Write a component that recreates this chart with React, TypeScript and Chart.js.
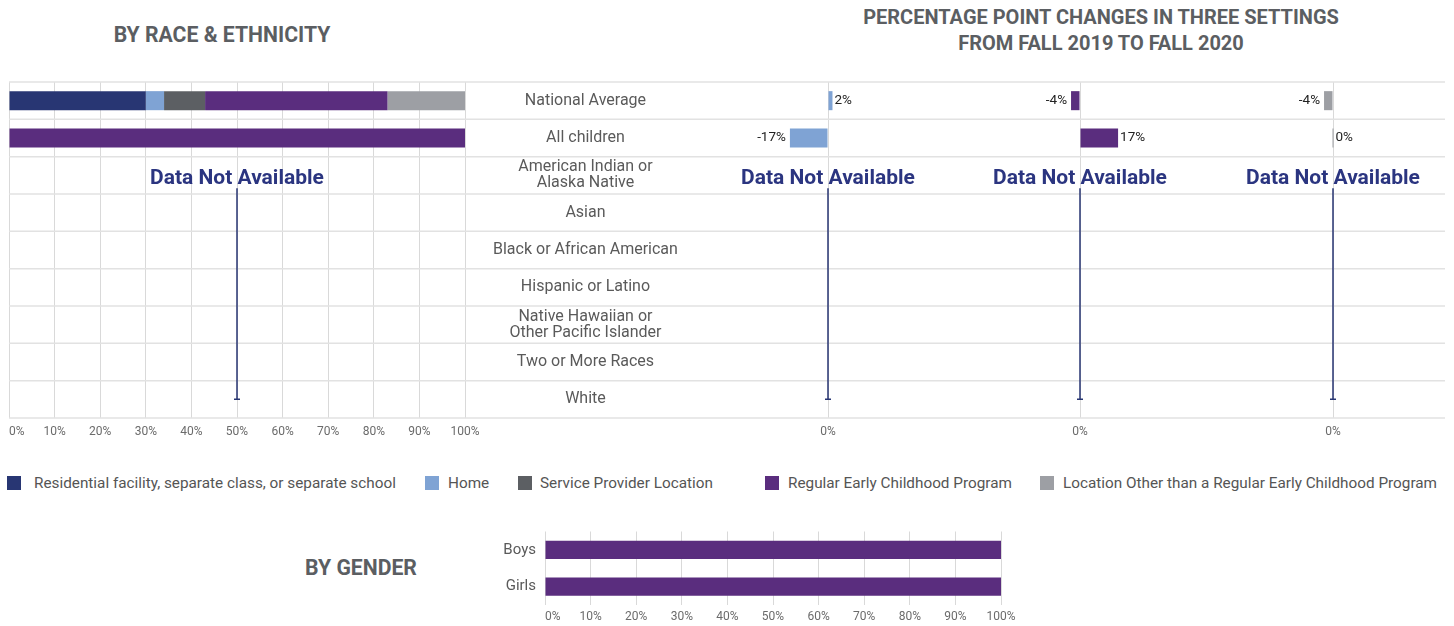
import React, { useEffect, useRef } from "react";
import { Chart, registerables } from "chart.js";

Chart.register(...registerables);

// ---------- DATA ----------
const raceCategories: (string | string[])[] = [
  "National Average",
  "All children",
  ["American Indian or", "Alaska Native"],
  "Asian",
  "Black or African American",
  "Hispanic or Latino",
  ["Native Hawaiian or", "Other Pacific Islander"],
  "Two or More Races",
  "White",
];

const residential = [30, 0, null, null, null, null, null, null, null];
const home = [4, 0, null, null, null, null, null, null, null];
const serviceProvider = [9, 0, null, null, null, null, null, null, null];
const regularProgram = [40, 100, null, null, null, null, null, null, null];
const otherLocation = [17, 0, null, null, null, null, null, null, null];

const homeChange = [2, -17, null, null, null, null, null, null, null];
const regularChange = [-4, 17, null, null, null, null, null, null, null];
const otherChange = [-4, 0, null, null, null, null, null, null, null];

const genderCategories = ["Boys", "Girls"];
const genderRegular = [100, 100];

const seriesNames = [
  "Residential facility, separate class, or separate school",
  "Home",
  "Service Provider Location",
  "Regular Early Childhood Program",
  "Location Other than a Regular Early Childhood Program",
];
const seriesColors = ["#283673", "#7fa3d4", "#5c5f63", "#5a2d7e", "#9d9fa4"];

const notAvailableText = "Data Not Available";
const raceTitle = "BY RACE & ETHNICITY";
const changeTitle = ["PERCENTAGE POINT CHANGES IN THREE SETTINGS", "FROM FALL 2019 TO FALL 2020"];
const genderTitle = "BY GENDER";

// ---------- STYLE CONSTANTS ----------
const FONT = "Roboto";
const GRID = "#d9d9d9";
const ROWLINE = "#e2e2e2";
const TICK_COLOR = "#6b6b6b";
const LABEL_COLOR = "#5a5a5a";
const NAVY_TEXT = "#2b3580";

// ---------- PLUGINS ----------
const rowLinesPlugin = {
  id: "rowLines",
  beforeDatasetsDraw(chart: any, _args: any, opts: any) {
    const { ctx, chartArea, scales } = chart;
    const y = scales.y;
    const n = chart.data.labels.length;
    const x0 = opts.left === "edge" ? 0 : chartArea.left;
    const x1 = opts.right === "edge" ? chart.width : chartArea.right;
    ctx.save();
    ctx.strokeStyle = ROWLINE;
    ctx.lineWidth = 1.5;
    for (let i = 0; i <= n; i++) {
      let py: number;
      if (i === 0) py = y.getPixelForValue(0) - (y.getPixelForValue(1) - y.getPixelForValue(0)) / 2;
      else if (i === n) py = y.getPixelForValue(n - 1) + (y.getPixelForValue(n - 1) - y.getPixelForValue(n - 2)) / 2;
      else py = (y.getPixelForValue(i - 1) + y.getPixelForValue(i)) / 2;
      ctx.beginPath();
      ctx.moveTo(x0, py);
      ctx.lineTo(x1, py);
      ctx.stroke();
    }
    ctx.restore();
  },
};

// first x tick label sits to the right of its grid line, as in the reference
const firstTickLeftPlugin = {
  id: "firstTickLeft",
  beforeDraw(chart: any) {
    const s = chart.scales.x;
    if (!s || !s.getLabelItems) return;
    const items = s.getLabelItems(chart.chartArea);
    if (items && items.length) items[0].options.textAlign = "left";
  },
};

const notAvailablePlugin = {
  id: "notAvailable",
  afterDraw(chart: any, _args: any, opts: any) {
    const { ctx, scales } = chart;
    const n = chart.data.labels.length;
    const missing: number[] = [];
    for (let i = 0; i < n; i++) {
      const allNull = chart.data.datasets.every((d: any) => d.data[i] === null || d.data[i] === undefined);
      if (allNull) missing.push(i);
    }
    if (!missing.length) return;
    const first = missing[0];
    const last = missing[missing.length - 1];
    const x = scales.x.getPixelForValue(opts.xValue);
    const yText = scales.y.getPixelForValue(first) + 3;
    const yEnd = scales.y.getPixelForValue(last);
    ctx.save();
    ctx.font = `bold 21px ${FONT}`;
    ctx.fillStyle = NAVY_TEXT;
    ctx.textAlign = "center";
    ctx.textBaseline = "middle";
    ctx.fillText(notAvailableText, x, yText);
    ctx.strokeStyle = "#283673";
    ctx.lineWidth = 1.5;
    ctx.beginPath();
    ctx.moveTo(x, yText + 10);
    ctx.lineTo(x, yEnd);
    ctx.moveTo(x - 3, yEnd);
    ctx.lineTo(x + 3, yEnd);
    ctx.stroke();
    ctx.restore();
  },
};

const valueLabelPlugin = {
  id: "valueLabels",
  afterDatasetsDraw(chart: any) {
    const { ctx } = chart;
    ctx.save();
    ctx.font = `13.5px ${FONT}`;
    ctx.fillStyle = "#222";
    ctx.textBaseline = "middle";
    chart.data.datasets.forEach((ds: any, di: number) => {
      const meta = chart.getDatasetMeta(di);
      meta.data.forEach((bar: any, i: number) => {
        const v = ds.data[i];
        if (v === null || v === undefined) return;
        const txt = `${v}%`;
        if (v >= 0) {
          ctx.textAlign = "left";
          ctx.fillText(txt, Math.max(bar.x, bar.base) + 2, bar.y);
        } else {
          ctx.textAlign = "right";
          ctx.fillText(txt, Math.min(bar.x, bar.base) - 4, bar.y);
        }
      });
    });
    ctx.restore();
  },
};

// ---------- CHART COMPONENTS ----------
function useChart(config: () => any) {
  const ref = useRef<HTMLCanvasElement | null>(null);
  useEffect(() => {
    if (!ref.current) return;
    const chart = new Chart(ref.current, config());
    return () => chart.destroy();
  }, []);
  return ref;
}

const pctXAxis = (height: number, gap: number) => ({
  min: 0,
  max: 100,
  ticks: {
    stepSize: 10,
    callback: (v: any) => `${v}%`,
    font: { family: FONT, size: 12 },
    color: TICK_COLOR,
    padding: 0,
  },
  grid: { color: GRID, drawTicks: true, tickLength: gap, tickColor: "rgba(0,0,0,0)" },
  border: { display: false },
  afterFit: (s: any) => {
    s.height = height;
  },
});

function RaceChart() {
  const ref = useChart(() => ({
    type: "bar",
    data: {
      labels: raceCategories,
      datasets: [residential, home, serviceProvider, regularProgram, otherLocation].map((d, i) => ({
        label: seriesNames[i],
        data: d,
        backgroundColor: seriesColors[i],
        barPercentage: 0.51,
        categoryPercentage: 1,
      })),
    },
    options: {
      indexAxis: "y",
      animation: false,
      responsive: true,
      maintainAspectRatio: false,
      layout: { padding: { left: 9, top: 12, right: 0, bottom: 0 } },
      plugins: {
        legend: { display: false },
        tooltip: { enabled: false },
        rowLines: { left: "chart", right: "edge" },
        notAvailable: { xValue: 50 },
      },
      scales: {
        x: { ...pctXAxis(25, 7), stacked: true },
        y: {
          stacked: true,
          position: "right",
          ticks: {
            crossAlign: "center",
            padding: 0,
            font: { family: FONT, size: 16, lineHeight: 1.0 },
            color: LABEL_COLOR,
          },
          grid: { display: false, drawTicks: true, tickLength: 28 },
          border: { display: false },
          afterFit: (s: any) => {
            s.width = 240;
          },
        },
      },
    },
    plugins: [rowLinesPlugin, notAvailablePlugin, firstTickLeftPlugin],
  }));
  return <canvas ref={ref} />;
}

function ChangeChart(props: { data: (number | null)[]; color: string; name: string; padLeft: number; padRight: number; lastPanel: boolean }) {
  const ref = useChart(() => ({
    type: "bar",
    data: {
      labels: raceCategories,
      datasets: [
        {
          label: props.name,
          data: props.data,
          backgroundColor: props.color,
          barPercentage: 0.51,
          categoryPercentage: 1,
          minBarLength: 1,
        },
      ],
    },
    options: {
      indexAxis: "y",
      animation: false,
      responsive: true,
      maintainAspectRatio: false,
      layout: { padding: { left: props.padLeft, top: 12, right: props.padRight, bottom: 0 } },
      plugins: {
        legend: { display: false },
        tooltip: { enabled: false },
        rowLines: { left: "edge", right: props.lastPanel ? "chart" : "edge" },
        notAvailable: { xValue: 0 },
      },
      scales: {
        x: {
          min: -50,
          max: 50,
          afterBuildTicks: (s: any) => {
            s.ticks = [{ value: 0 }];
          },
          ticks: {
            callback: (v: any) => `${v}%`,
            font: { family: FONT, size: 12 },
            color: TICK_COLOR,
            padding: 0,
          },
          grid: { color: GRID, drawTicks: true, tickLength: 7, tickColor: "rgba(0,0,0,0)" },
          border: { display: false },
          afterFit: (s: any) => {
            s.height = 25;
          },
        },
        y: {
          display: false,
          offset: true,
        },
      },
    },
    plugins: [rowLinesPlugin, valueLabelPlugin, notAvailablePlugin],
  }));
  return <canvas ref={ref} />;
}

function GenderChart() {
  const ref = useChart(() => ({
    type: "bar",
    data: {
      labels: genderCategories,
      datasets: [
        {
          label: seriesNames[3],
          data: genderRegular,
          backgroundColor: seriesColors[3],
          barPercentage: 0.49,
          categoryPercentage: 1,
        },
      ],
    },
    options: {
      indexAxis: "y",
      animation: false,
      responsive: true,
      maintainAspectRatio: false,
      layout: { padding: { left: 0, top: 11.5, right: 19, bottom: 0 } },
      plugins: { legend: { display: false }, tooltip: { enabled: false } },
      scales: {
        x: pctXAxis(21, 5),
        y: {
          ticks: {
            font: { family: FONT, size: 15 },
            color: LABEL_COLOR,
            padding: 0,
          },
          grid: { display: false, drawTicks: true, tickLength: 9 },
          border: { display: false },
          afterFit: (s: any) => {
            s.width = 65;
          },
        },
      },
    },
    plugins: [firstTickLeftPlugin],
  }));
  return <canvas ref={ref} />;
}

const abs = (left: number, top: number, width: number, height: number): React.CSSProperties => ({
  position: "absolute",
  left,
  top,
  width,
  height,
});

const titleStyle: React.CSSProperties = {
  position: "absolute",
  fontFamily: FONT,
  fontWeight: 700,
  fontSize: 21.2,
  color: "#5b5e62",
  textAlign: "center",
  lineHeight: "26px",
  whiteSpace: "nowrap",
  transform: "translate(-50%, -50%)",
};

const legendSquareX = [7, 425, 518, 765, 1040];
const legendTextX = [34, 448, 540, 788, 1063];

export default function App() {
  return (
    <div style={{ position: "absolute", left: 0, top: 0, width: 1454, height: 626, background: "#fff", overflow: "hidden", fontFamily: FONT }}>
      <div style={{ ...titleStyle, left: 222, top: 35 }}>{raceTitle}</div>
      <div style={{ ...titleStyle, fontSize: 20, left: 1101, top: 30 }}>
        {changeTitle.map((t, i) => (
          <div key={i}>{t}</div>
        ))}
      </div>
      <div style={{ ...titleStyle, left: 361, top: 568 }}>{genderTitle}</div>

      <div style={abs(0, 70, 705, 373)}>
        <RaceChart />
      </div>
      <div style={abs(705, 70, 249, 373)}>
        <ChangeChart data={homeChange} color={seriesColors[1]} name={seriesNames[1]} padLeft={11} padRight={14} lastPanel={false} />
      </div>
      <div style={abs(954, 70, 252, 373)}>
        <ChangeChart data={regularChange} color={seriesColors[3]} name={seriesNames[3]} padLeft={14} padRight={14} lastPanel={false} />
      </div>
      <div style={abs(1206, 70, 248, 373)}>
        <ChangeChart data={otherChange} color={seriesColors[4]} name={seriesNames[4]} padLeft={15} padRight={9} lastPanel={true} />
      </div>

      {seriesNames.map((name, i) => (
        <React.Fragment key={name}>
          <span style={{ position: "absolute", left: legendSquareX[i], top: 476, width: 14, height: 14, background: seriesColors[i] }} />
          <span style={{ position: "absolute", left: legendTextX[i], top: 474, lineHeight: "18px", fontSize: 15.3, color: "#555", whiteSpace: "nowrap" }}>
            {name}
          </span>
        </React.Fragment>
      ))}

      <div style={abs(480, 520, 540, 106)}>
        <GenderChart />
      </div>
    </div>
  );
}
